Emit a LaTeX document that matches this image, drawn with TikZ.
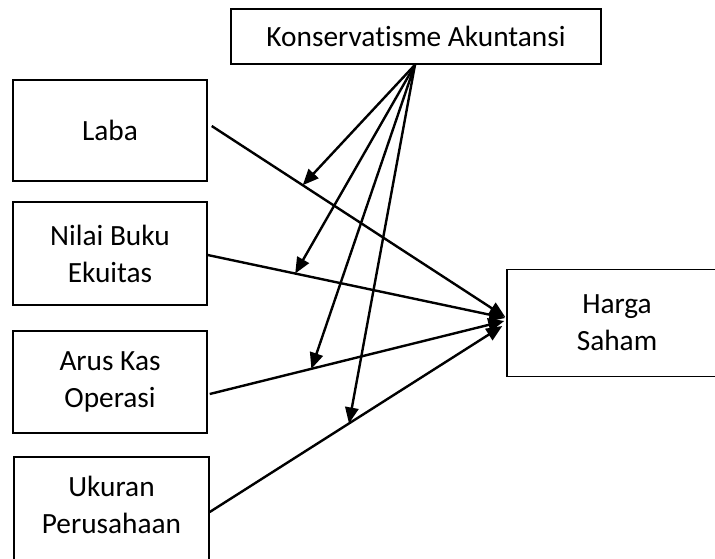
\documentclass[tikz,border=0pt]{standalone}
\usepackage{fontspec}
\setmainfont{Carlito}[Ligatures=NoCommon]
\usetikzlibrary{arrows.meta,calc}
\begin{document}
\begin{tikzpicture}[x=0.75pt,y=-0.75pt,
  box/.style={draw,line width=1.1pt,inner sep=0pt,align=center,
    font=\fontsize{22}{27.75}\selectfont},
  lbl/.style={inner sep=0pt,align=center,font=\fontsize{22}{27.75}\selectfont},
  conn/.style={line width=1.8pt,-{Triangle[length=12pt,width=10pt]}}]
  % page frame
  \fill[white] (0,0) rectangle (715,558);
  \clip (0,0) rectangle (715,558);

  % boxes
  \node[box,minimum width=370*0.75pt,minimum height=55*0.75pt] (konserv) at (416,36.5) {Konservatisme Akuntansi};
  \node[box,minimum width=194*0.75pt,minimum height=101*0.75pt] (laba) at (110,130.5) {Laba};
  \node[box,minimum width=194*0.75pt,minimum height=103*0.75pt] (nilai) at (110,253.5) {Nilai Buku\\Ekuitas};
  \node[box,minimum width=194*0.75pt,minimum height=102*0.75pt] (arus) at (110,382) {Arus Kas\\Operasi};
  \node[box,minimum width=195*0.75pt,minimum height=110*0.75pt] (ukuran) at (111.5,512) {};
  \node[lbl] (ukurantxt) at (111.5,505) {Ukuran\\Perusahaan};
  \node[box,minimum width=220*0.75pt,minimum height=107*0.75pt] (harga) at (617,323) {Harga\\Saham};

  % independent variables to share price
  \draw[conn] ($(laba.east)+(4,-4.5)$) -- coordinate[pos=0.31] (m1) ($(harga.west)+(-1,-6)$);
  \draw[conn] ($(nilai.east)+(0,1.5)$) -- coordinate[pos=0.294] (m2) ($(harga.west)+(-1,-5)$);
  \draw[conn] ($(arus.east)+(2,12)$) -- coordinate[pos=0.345] (m3) ($(harga.west)+(-2,-2)$);
  \draw[conn] (ukuran.east) -- coordinate[pos=0.476] (m4) ($(harga.west)+(-4,3)$);

  % moderating variable onto each relation
  \coordinate (fan) at ($(konserv.south)+(-1,0)$);
  \foreach \m in {m1,m2,m3,m4}
    \draw[conn] (fan) -- (\m);
\end{tikzpicture}
\end{document}
